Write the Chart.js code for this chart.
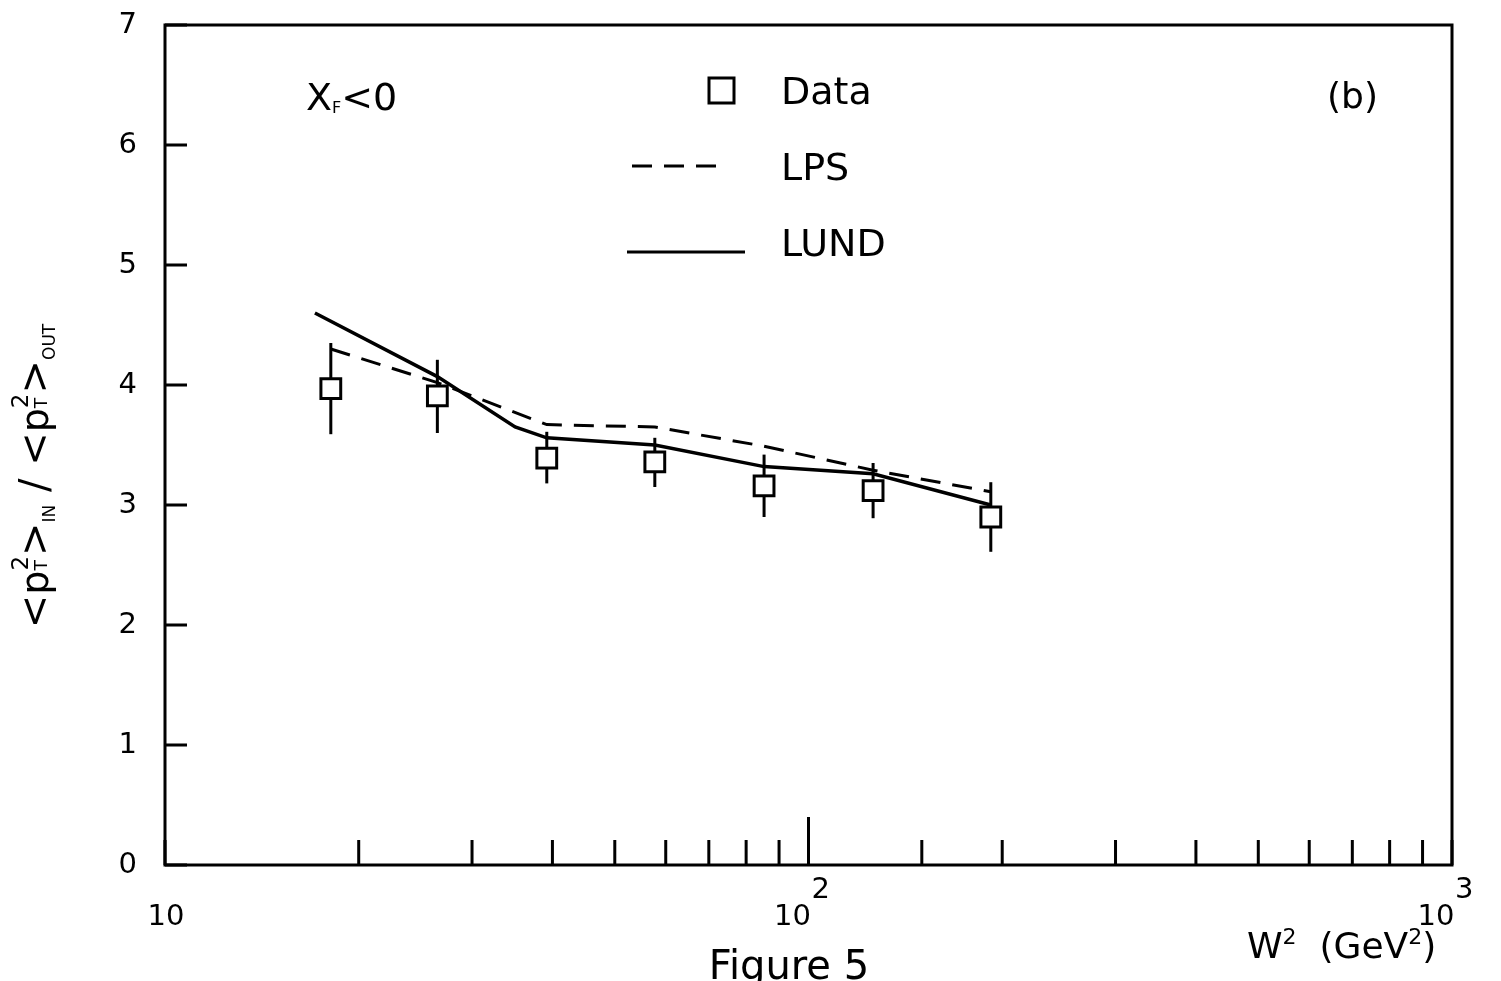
<!DOCTYPE html>
<html>
<head>
<meta charset="utf-8">
<script src="https://cdn.jsdelivr.net/npm/chart.js@4"></script>
<style>
  html, body { margin: 0; padding: 0; background: #fff; }
  canvas { display: block; }
</style>
</head>
<body>
<canvas id="chart" width="1501" height="981"></canvas>
<script>
// measured points, W^2 in GeV^2
const dataW2 = [18.1, 26.5, 39.2, 57.7, 85.3, 126, 192];
const dataRatio = [3.97, 3.91, 3.39, 3.36, 3.16, 3.12, 2.90];
const dataErrLow = [3.59, 3.60, 3.18, 3.15, 2.90, 2.89, 2.61];
const dataErrHigh = [4.35, 4.21, 3.61, 3.56, 3.42, 3.35, 3.19];

// LPS model (dashed)
const lpsW2 = [18.1, 26.5, 39.2, 57.7, 85.3, 126, 192];
const lpsRatio = [4.30, 4.02, 3.67, 3.65, 3.49, 3.29, 3.11];

// LUND model (solid)
const lundW2 = [17.1, 26.5, 35.0, 39.2, 57.7, 85.3, 126, 192];
const lundRatio = [4.60, 4.07, 3.65, 3.56, 3.50, 3.32, 3.26, 3.00];

// x axis labels (base + exponent)
const xTickLabels = [
    { value: 10, base: '10', exp: '' },
    { value: 100, base: '10', exp: '2' },
    { value: 1000, base: '10', exp: '3' }
];
const legendNames = ['Data', 'LPS', 'LUND'];

const FONT = '"DejaVu Sans", sans-serif';

function toPoints(xs, ys) {
    return xs.map((x, i) => ({ x: x, y: ys[i] }));
}

// draws a run of text pieces (with sub/superscripts) starting at x, baseline y
function drawRich(ctx, parts, x, y, align) {
    let total = 0;
    parts.forEach(p => {
        ctx.font = p.size + 'px ' + FONT;
        p.w = ctx.measureText(p.t).width;
        if (p.t2) {
            ctx.font = p.size2 + 'px ' + FONT;
            p.w = Math.max(p.w, ctx.measureText(p.t2).width);
        }
        total += p.w;
    });
    let cx = align === 'center' ? x - total / 2 : x;
    ctx.textAlign = 'left';
    ctx.textBaseline = 'alphabetic';
    parts.forEach(p => {
        ctx.font = p.size + 'px ' + FONT;
        ctx.fillText(p.t, cx, y + (p.dy || 0));
        if (p.t2) {
            ctx.font = p.size2 + 'px ' + FONT;
            ctx.fillText(p.t2, cx, y + (p.dy2 || 0));
        }
        cx += p.w;
    });
}

const decorPlugin = {
    id: 'decor',
    beforeDatasetsDraw(chart) {
        // error bars sit behind the boxes
        const ctx = chart.ctx;
        const xs = chart.scales.x, ys = chart.scales.y;
        ctx.save();
        ctx.strokeStyle = '#000';
        ctx.lineWidth = 3;
        dataW2.forEach((w, i) => {
            const px = xs.getPixelForValue(w);
            ctx.beginPath();
            ctx.moveTo(px, ys.getPixelForValue(dataErrLow[i]));
            ctx.lineTo(px, ys.getPixelForValue(dataErrHigh[i]));
            ctx.stroke();
        });
        ctx.restore();
    },
    afterDraw(chart) {
        const ctx = chart.ctx;
        const area = chart.chartArea;
        const xs = chart.scales.x, ys = chart.scales.y;
        ctx.save();
        ctx.strokeStyle = '#000';
        ctx.fillStyle = '#000';
        ctx.lineWidth = 3;
        ctx.lineCap = 'square';

        // frame
        ctx.strokeRect(area.left, area.top, area.right - area.left, area.bottom - area.top);

        // inward ticks
        ctx.lineCap = 'butt';
        ctx.beginPath();
        xs.ticks.forEach(t => {
            const px = xs.getPixelForValue(t.value);
            const len = (t.value === 100) ? 48 : 25;
            ctx.moveTo(px, area.bottom);
            ctx.lineTo(px, area.bottom - len);
        });
        ys.ticks.forEach(t => {
            const py = ys.getPixelForValue(t.value);
            ctx.moveTo(area.left, py);
            ctx.lineTo(area.left + 22, py);
        });
        ctx.stroke();

        // x tick labels
        xTickLabels.forEach(l => {
            const px = xs.getPixelForValue(l.value);
            ctx.font = '29px ' + FONT;
            ctx.textBaseline = 'alphabetic';
            if (l.exp) {
                ctx.textAlign = 'center';
                ctx.fillText(l.base, px - 16, 925);
                ctx.textAlign = 'left';
                ctx.fillText(l.exp, px + 3, 898);
            } else {
                ctx.textAlign = 'center';
                ctx.fillText(l.base, px + 1, 925);
            }
        });

        // legend
        const ds = chart.data.datasets;
        ctx.lineWidth = 3;
        ctx.strokeRect(709, 78, 25, 25);
        ctx.setLineDash(ds[1].borderDash);
        ctx.beginPath();
        ctx.moveTo(632, 166);
        ctx.lineTo(724, 166);
        ctx.stroke();
        ctx.setLineDash([]);
        ctx.beginPath();
        ctx.moveTo(627, 252);
        ctx.lineTo(745, 252);
        ctx.stroke();
        ctx.font = '38px ' + FONT;
        ctx.textAlign = 'left';
        ctx.fillText(legendNames[0], 781, 104);
        ctx.fillText(legendNames[1], 781, 180);
        ctx.fillText(legendNames[2], 781, 256);

        // annotations
        drawRich(ctx, [
            { t: 'X', size: 38 },
            { t: 'F', size: 16, dy: 3 },
            { t: '<0', size: 38 }
        ], 306, 110);
        ctx.font = '36px ' + FONT;
        ctx.fillText('(b)', 1327, 108);

        // x axis title
        drawRich(ctx, [
            { t: 'W', size: 36 },
            { t: '2', size: 22, dy: -14 },
            { t: '  (GeV', size: 36 },
            { t: '2', size: 22, dy: -14 },
            { t: ')', size: 36 }
        ], 1247, 958);

        // caption
        ctx.font = '40px ' + FONT;
        ctx.textAlign = 'center';
        ctx.fillText('Figure 5', 789, 979);

        // y axis title, rotated
        ctx.translate(48, 476);
        ctx.rotate(-Math.PI / 2);
        drawRich(ctx, [
            { t: '<', size: 40 },
            { t: 'p', size: 38 },
            { t: '2', size: 23, dy: -20, t2: 'T', size2: 17, dy2: -1 },
            { t: '>', size: 40 },
            { t: 'IN', size: 17, dy: 7 },
            { t: ' / ', size: 40 },
            { t: '<', size: 40 },
            { t: 'p', size: 38 },
            { t: '2', size: 23, dy: -20, t2: 'T', size2: 17, dy2: -1 },
            { t: '>', size: 40 },
            { t: 'OUT', size: 17, dy: 7 }
        ], 0, 0, 'center');
        ctx.restore();
    }
};

const ctx = document.getElementById('chart').getContext('2d');

new Chart(ctx, {
    type: 'scatter',
    data: {
        datasets: [
            {
                label: legendNames[0],
                data: toPoints(dataW2, dataRatio),
                pointStyle: 'rect',
                pointRadius: 14,
                pointBackgroundColor: '#fff',
                pointBorderColor: '#000',
                pointBorderWidth: 3,
                showLine: false,
                order: 0
            },
            {
                label: legendNames[1],
                data: toPoints(lpsW2, lpsRatio),
                showLine: true,
                borderColor: '#000',
                borderWidth: 3,
                borderDash: [20, 12],
                pointRadius: 0,
                tension: 0,
                order: 1
            },
            {
                label: legendNames[2],
                data: toPoints(lundW2, lundRatio),
                showLine: true,
                borderColor: '#000',
                borderWidth: 3.5,
                pointRadius: 0,
                tension: 0,
                order: 2
            }
        ]
    },
    options: {
        responsive: false,
        animation: false,
        devicePixelRatio: 1,
        layout: { padding: { left: 0, right: 49, top: 25, bottom: 116 } },
        plugins: {
            legend: { display: false },
            tooltip: { enabled: false }
        },
        scales: {
            x: {
                type: 'logarithmic',
                min: 10,
                max: 1000,
                ticks: { display: false },
                grid: { display: false },
                border: { display: false },
                afterFit: s => { s.height = 0; s.paddingLeft = 0; s.paddingRight = 0; }
            },
            y: {
                min: 0,
                max: 7,
                ticks: {
                    stepSize: 1,
                    padding: 20,
                    color: '#000',
                    font: { family: 'DejaVu Sans', size: 29 }
                },
                grid: { display: false },
                border: { display: false },
                // fixed axis width, no extra room above/below for the labels
                afterFit: s => { s.width = 165; s.paddingTop = 0; s.paddingBottom = 0; }
            }
        }
    },
    plugins: [decorPlugin]
});
</script>
</body>
</html>
